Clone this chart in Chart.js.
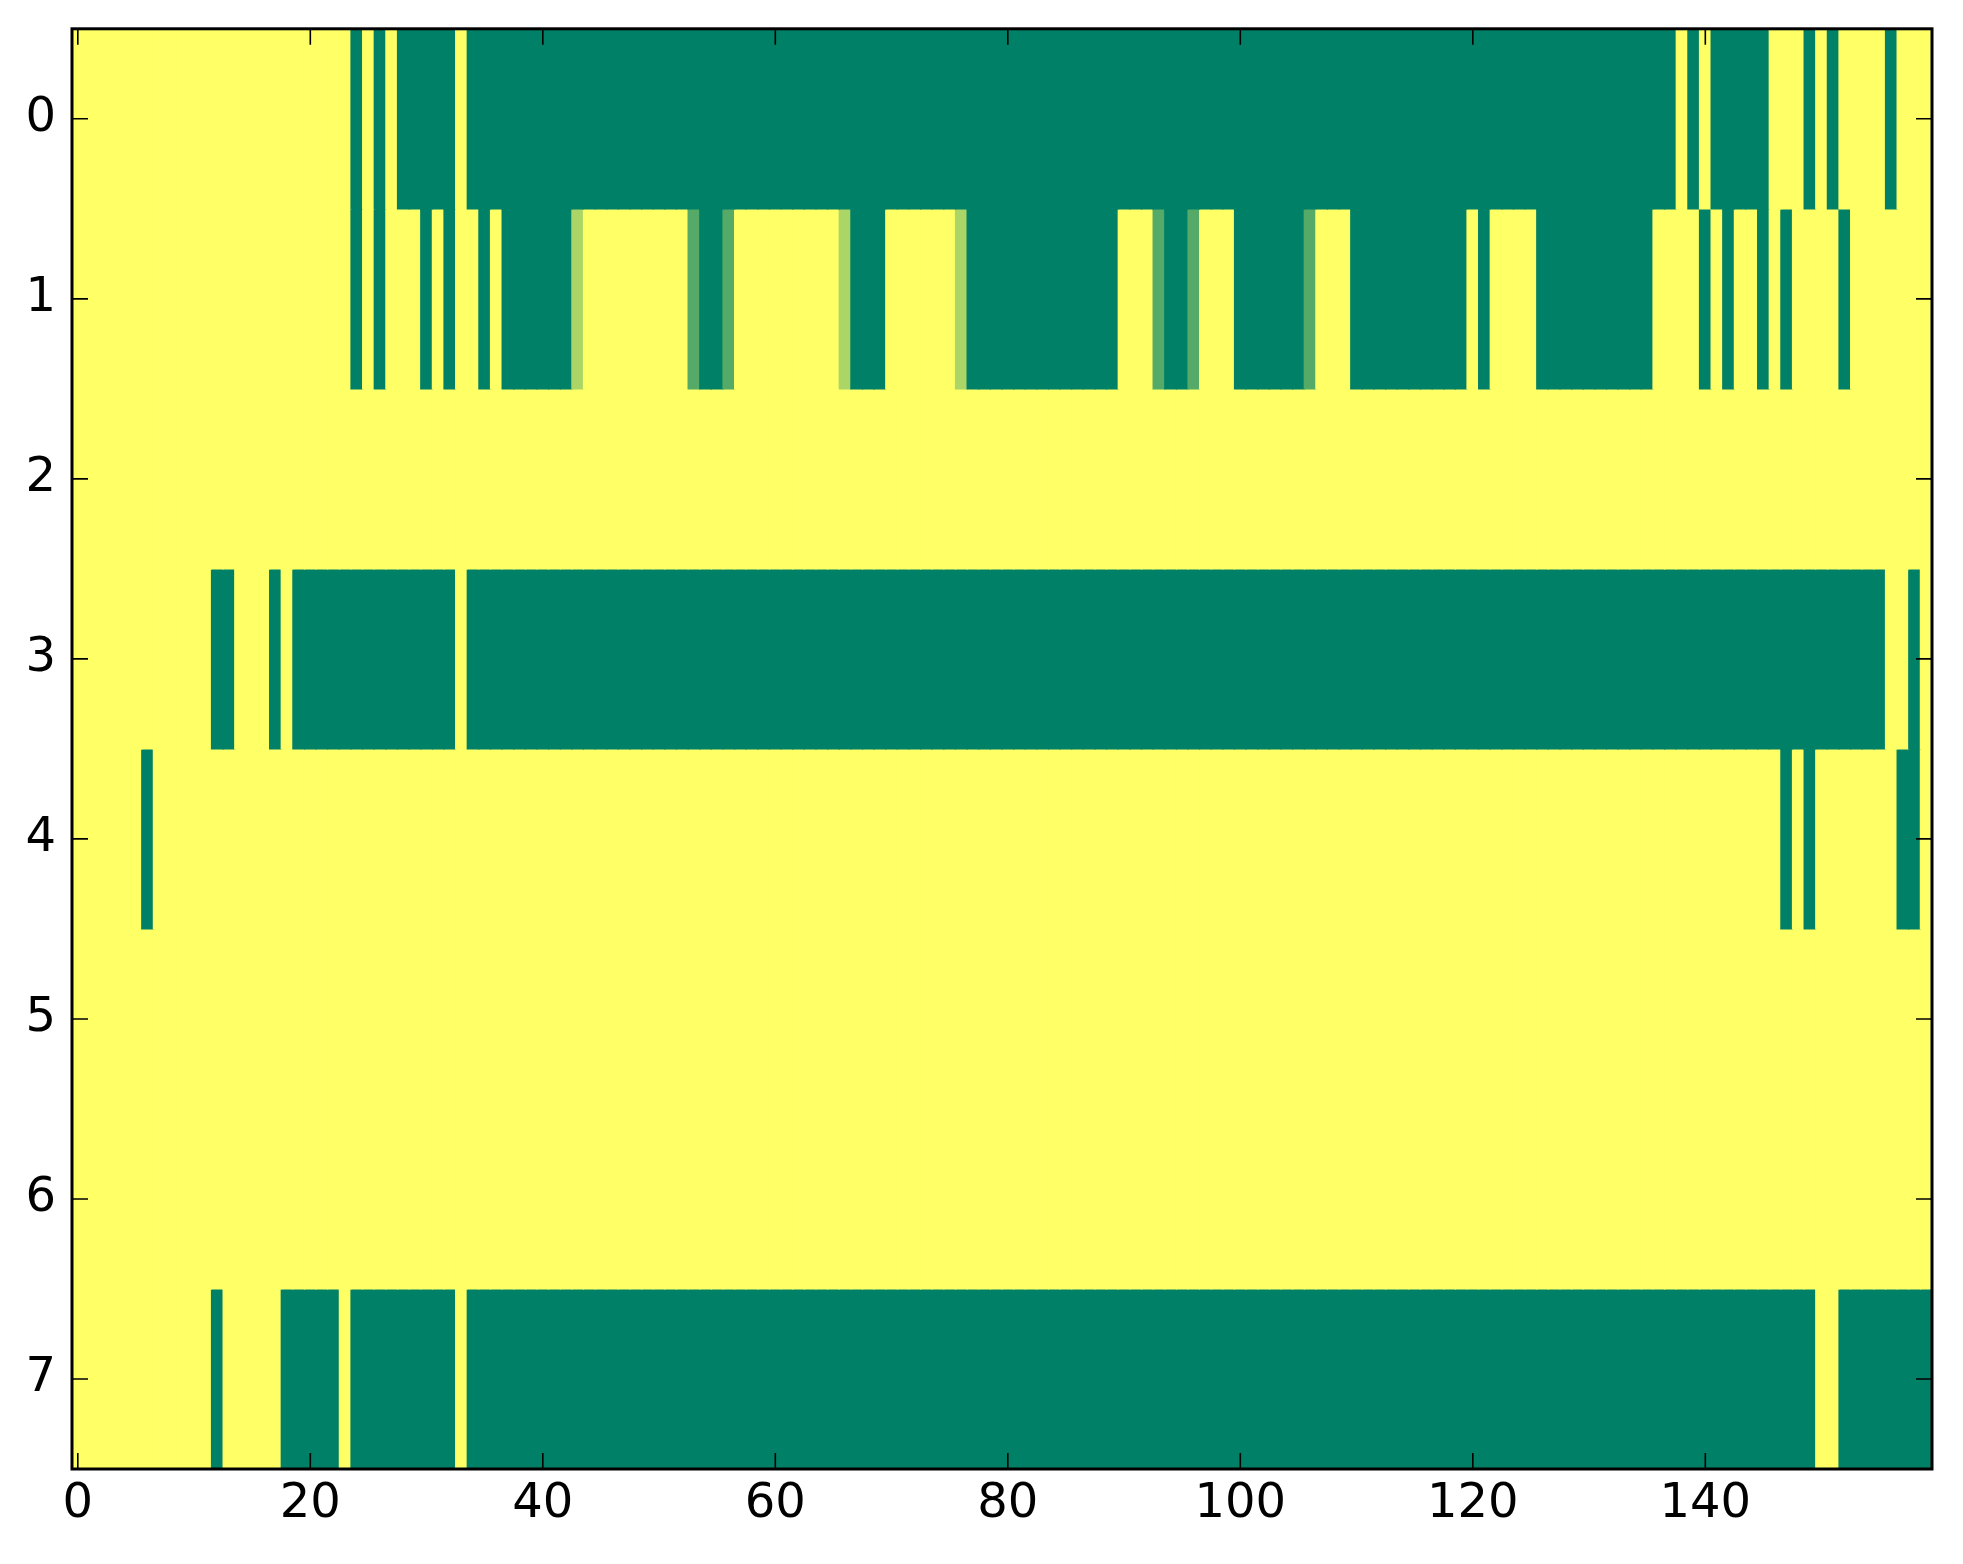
<!DOCTYPE html>
<html>
<head>
<meta charset="utf-8">
<script src="https://cdn.jsdelivr.net/npm/chart.js@4"></script>
<style>
  html, body { margin: 0; padding: 0; background: #fff; }
  #wrap { width: 1963px; height: 1564px; }
</style>
</head>
<body>
<div id="wrap"><canvas id="heat"></canvas></div>
<script>
// one array per image row, 160 columns each (0 = dark green, 1 = yellow)
const row0 = [
  1,1,1,1,1,1,1,1,1,1,1,1,1,1,1,1,1,1,1,1,
  1,1,1,1,0,1,0,1,0,0,0,0,0,1,0,0,0,0,0,0,
  0,0,0,0,0,0,0,0,0,0,0,0,0,0,0,0,0,0,0,0,
  0,0,0,0,0,0,0,0,0,0,0,0,0,0,0,0,0,0,0,0,
  0,0,0,0,0,0,0,0,0,0,0,0,0,0,0,0,0,0,0,0,
  0,0,0,0,0,0,0,0,0,0,0,0,0,0,0,0,0,0,0,0,
  0,0,0,0,0,0,0,0,0,0,0,0,0,0,0,0,0,0,1,0,
  1,0,0,0,0,0,1,1,1,0,1,0,1,1,1,1,0,1,1,1
];
const row1 = [
  1,1,1,1,1,1,1,1,1,1,1,1,1,1,1,1,1,1,1,1,
  1,1,1,1,0,1,0,1,1,1,0,1,0,1,1,0,1,0,0,0,
  0,0,0,0.67,1,1,1,1,1,1,1,1,1,0.33,0,0,0.33,1,1,1,
  1,1,1,1,1,1,0.67,0,0,0,1,1,1,1,1,1,0.67,0,0,0,
  0,0,0,0,0,0,0,0,0,0,1,1,1,0.33,0,0,0.33,1,1,1,
  0,0,0,0,0,0,0.33,1,1,1,0,0,0,0,0,0,0,0,0,0,
  1,0,1,1,1,1,0,0,0,0,0,0,0,0,0,0,1,1,1,1,
  0,1,0,1,1,0,1,0,1,1,1,1,0,1,1,1,1,1,1,1
];
const row2 = [
  1,1,1,1,1,1,1,1,1,1,1,1,1,1,1,1,1,1,1,1,
  1,1,1,1,1,1,1,1,1,1,1,1,1,1,1,1,1,1,1,1,
  1,1,1,1,1,1,1,1,1,1,1,1,1,1,1,1,1,1,1,1,
  1,1,1,1,1,1,1,1,1,1,1,1,1,1,1,1,1,1,1,1,
  1,1,1,1,1,1,1,1,1,1,1,1,1,1,1,1,1,1,1,1,
  1,1,1,1,1,1,1,1,1,1,1,1,1,1,1,1,1,1,1,1,
  1,1,1,1,1,1,1,1,1,1,1,1,1,1,1,1,1,1,1,1,
  1,1,1,1,1,1,1,1,1,1,1,1,1,1,1,1,1,1,1,1
];
const row3 = [
  1,1,1,1,1,1,1,1,1,1,1,1,0,0,1,1,1,0,1,0,
  0,0,0,0,0,0,0,0,0,0,0,0,0,1,0,0,0,0,0,0,
  0,0,0,0,0,0,0,0,0,0,0,0,0,0,0,0,0,0,0,0,
  0,0,0,0,0,0,0,0,0,0,0,0,0,0,0,0,0,0,0,0,
  0,0,0,0,0,0,0,0,0,0,0,0,0,0,0,0,0,0,0,0,
  0,0,0,0,0,0,0,0,0,0,0,0,0,0,0,0,0,0,0,0,
  0,0,0,0,0,0,0,0,0,0,0,0,0,0,0,0,0,0,0,0,
  0,0,0,0,0,0,0,0,0,0,0,0,0,0,0,0,1,1,0,1
];
const row4 = [
  1,1,1,1,1,1,0,1,1,1,1,1,1,1,1,1,1,1,1,1,
  1,1,1,1,1,1,1,1,1,1,1,1,1,1,1,1,1,1,1,1,
  1,1,1,1,1,1,1,1,1,1,1,1,1,1,1,1,1,1,1,1,
  1,1,1,1,1,1,1,1,1,1,1,1,1,1,1,1,1,1,1,1,
  1,1,1,1,1,1,1,1,1,1,1,1,1,1,1,1,1,1,1,1,
  1,1,1,1,1,1,1,1,1,1,1,1,1,1,1,1,1,1,1,1,
  1,1,1,1,1,1,1,1,1,1,1,1,1,1,1,1,1,1,1,1,
  1,1,1,1,1,1,1,0,1,0,1,1,1,1,1,1,1,0,0,1
];
const row5 = [
  1,1,1,1,1,1,1,1,1,1,1,1,1,1,1,1,1,1,1,1,
  1,1,1,1,1,1,1,1,1,1,1,1,1,1,1,1,1,1,1,1,
  1,1,1,1,1,1,1,1,1,1,1,1,1,1,1,1,1,1,1,1,
  1,1,1,1,1,1,1,1,1,1,1,1,1,1,1,1,1,1,1,1,
  1,1,1,1,1,1,1,1,1,1,1,1,1,1,1,1,1,1,1,1,
  1,1,1,1,1,1,1,1,1,1,1,1,1,1,1,1,1,1,1,1,
  1,1,1,1,1,1,1,1,1,1,1,1,1,1,1,1,1,1,1,1,
  1,1,1,1,1,1,1,1,1,1,1,1,1,1,1,1,1,1,1,1
];
const row6 = [
  1,1,1,1,1,1,1,1,1,1,1,1,1,1,1,1,1,1,1,1,
  1,1,1,1,1,1,1,1,1,1,1,1,1,1,1,1,1,1,1,1,
  1,1,1,1,1,1,1,1,1,1,1,1,1,1,1,1,1,1,1,1,
  1,1,1,1,1,1,1,1,1,1,1,1,1,1,1,1,1,1,1,1,
  1,1,1,1,1,1,1,1,1,1,1,1,1,1,1,1,1,1,1,1,
  1,1,1,1,1,1,1,1,1,1,1,1,1,1,1,1,1,1,1,1,
  1,1,1,1,1,1,1,1,1,1,1,1,1,1,1,1,1,1,1,1,
  1,1,1,1,1,1,1,1,1,1,1,1,1,1,1,1,1,1,1,1
];
const row7 = [
  1,1,1,1,1,1,1,1,1,1,1,1,0,1,1,1,1,1,0,0,
  0,0,0,1,0,0,0,0,0,0,0,0,0,1,0,0,0,0,0,0,
  0,0,0,0,0,0,0,0,0,0,0,0,0,0,0,0,0,0,0,0,
  0,0,0,0,0,0,0,0,0,0,0,0,0,0,0,0,0,0,0,0,
  0,0,0,0,0,0,0,0,0,0,0,0,0,0,0,0,0,0,0,0,
  0,0,0,0,0,0,0,0,0,0,0,0,0,0,0,0,0,0,0,0,
  0,0,0,0,0,0,0,0,0,0,0,0,0,0,0,0,0,0,0,0,
  0,0,0,0,0,0,0,0,0,0,1,1,0,0,0,0,0,0,0,0
];
const rows = [row0, row1, row2, row3, row4, row5, row6, row7];
const xTicks = [0, 20, 40, 60, 80, 100, 120, 140];
const yTicks = [0, 1, 2, 3, 4, 5, 6, 7];

// matplotlib "summer" colormap
function summer(v) {
  const r = Math.round(255 * v);
  const g = Math.round(255 * (0.5 + v / 2));
  return `rgb(${r},${g},102)`;
}

const datasets = rows.map((vals, r) => ({
  label: "row " + r,
  data: vals.map((v, i) => ({ x: i, y: [r - 0.5, r + 0.5] })),
  backgroundColor: vals.map(summer),
  borderWidth: 0,
  inflateAmount: 0.6,
  barPercentage: 1,
  categoryPercentage: 1,
  grouped: false,
}));

// inward ticks on all four sides + frame, like the classic matplotlib look
const frameTicks = {
  id: "frameTicks",
  afterDraw(chart) {
    const { ctx, chartArea: a, scales } = chart;
    const len = 16;
    ctx.save();
    ctx.strokeStyle = "#000";
    ctx.lineWidth = 1.6;
    ctx.beginPath();
    xTicks.forEach((t) => {
      const px = scales.x.getPixelForValue(t);
      ctx.moveTo(px, a.bottom); ctx.lineTo(px, a.bottom - len);
      ctx.moveTo(px, a.top); ctx.lineTo(px, a.top + len);
    });
    yTicks.forEach((t) => {
      const py = scales.y.getPixelForValue(t);
      ctx.moveTo(a.left, py); ctx.lineTo(a.left + len, py);
      ctx.moveTo(a.right, py); ctx.lineTo(a.right - len, py);
    });
    ctx.stroke();
    ctx.lineWidth = 3;
    ctx.strokeRect(a.left, a.top, a.right - a.left, a.bottom - a.top);
    ctx.restore();
  },
};

const tickFont = { family: "DejaVu Sans", size: 48 };

new Chart(document.getElementById("heat"), {
  type: "bar",
  data: { datasets },
  options: {
    responsive: true,
    maintainAspectRatio: false,
    animation: false,
    devicePixelRatio: 1,
    layout: { padding: { top: 0, right: 31, left: 0, bottom: 0 } },
    plugins: { legend: { display: false }, tooltip: { enabled: false } },
    scales: {
      x: {
        type: "linear",
        min: -0.5,
        max: 159.5,
        offset: false,
        grid: { display: false, drawTicks: false },
        border: { display: false },
        afterBuildTicks: (s) => { s.ticks = xTicks.map((v) => ({ value: v })); },
        afterFit: (s) => { s.height = 95; },
        ticks: { font: tickFont, color: "#000", padding: 7, maxRotation: 0 },
      },
      y: {
        type: "linear",
        reverse: true,
        min: -0.5,
        max: 7.5,
        grid: { display: false, drawTicks: true, tickLength: 16 },
        border: { display: false },
        afterBuildTicks: (s) => { s.ticks = yTicks.map((v) => ({ value: v })); },
        afterFit: (s) => { s.width = 72; },
        ticks: { font: tickFont, color: "#000", padding: 0 },
      },
    },
  },
  plugins: [frameTicks],
});
</script>
</body>
</html>
